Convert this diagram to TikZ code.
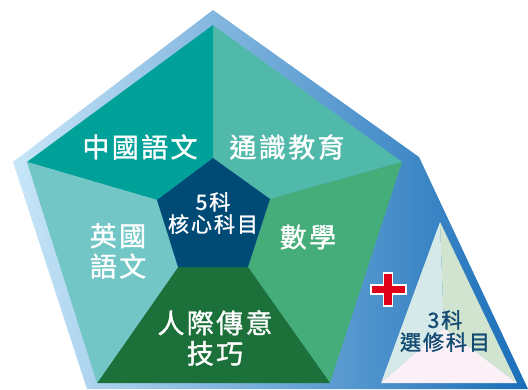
\documentclass[tikz,border=0pt]{standalone}
\usepackage{fontspec}
\newfontfamily\cjk[FakeBold=1.2, LetterSpace=9]{Noto Sans CJK TC}

\definecolor{frameL}{RGB}{200,230,248}
\definecolor{frameM}{RGB}{130,180,225}
\definecolor{frameR}{RGB}{25,110,185}
\definecolor{zhteal}{RGB}{0,161,153}
\definecolor{gsteal}{RGB}{80,185,170}
\definecolor{mathgreen}{RGB}{68,173,122}
\definecolor{commgreen}{RGB}{28,112,58}
\definecolor{enteal}{RGB}{115,198,198}
\definecolor{coreblue}{RGB}{0,74,118}
\definecolor{triL}{RGB}{213,234,232}
\definecolor{triR}{RGB}{208,228,208}
\definecolor{triB}{RGB}{250,240,246}
\definecolor{electblue}{RGB}{20,75,115}
\definecolor{crossred}{RGB}{225,0,25}

\begin{document}
\begin{tikzpicture}[
  x=0.03cm, y=-0.03cm,
  every node/.style={font=\cjk, text=white, align=center},
  big/.style={font=\cjk\fontsize{23}{26}\selectfont},
  small/.style={font=\cjk\fontsize{18}{19}\selectfont}
]
\useasboundingbox (0,0) rectangle (528,389);

% outer frame:
\shade [left color=frameL, middle color=frameM, right color=frameR]
  (213,10) -- (419,157) -- (528,389) -- (87,389) -- (13,162) -- cycle;

\coordinate (T) at (213,25);
\coordinate (L) at (27,162);
\coordinate (R) at (402,162);
\coordinate (BL) at (97,383);
\coordinate (BR) at (330,383);
\coordinate (cT) at (213,158);
\coordinate (cL) at (157,200);
\coordinate (cR) at (270,199);
\coordinate (cBL) at (178,267);
\coordinate (cBR) at (248,267);

% five sectors, then the core
\foreach \a/\b/\c/\d/\col in {T/L/cL/cT/zhteal, T/cT/cR/R/gsteal,
    R/cR/cBR/BR/mathgreen, cBL/cBR/BR/BL/commgreen, L/BL/cBL/cL/enteal} {
  \fill [\col] (\a) -- (\b) -- (\c) -- (\d) -- cycle;
}
\fill [coreblue] (cT) -- (cR) -- (cBR) -- (cBL) -- (cL) -- cycle;

% triangle:
\coordinate (tT) at (440,222);
\coordinate (tL) at (381,383);
\coordinate (tR) at (517,383);
\coordinate (tP) at (444,328);
\foreach \a/\b/\col in {tT/tL/triL, tT/tR/triR, tL/tR/triB} {
  \fill [\col] (\a) -- (\b) -- (tP) -- cycle;
}

% plus sign
\filldraw [fill=crossred, draw=white, line width=1.3pt]
  (371,285) -- (383.5,285) -- (383.5,273) -- (392.5,273) -- (392.5,285)
  -- (406,285) -- (406,294) -- (392.5,294) -- (392.5,306) -- (383.5,306)
  -- (383.5,294) -- (371,294) -- cycle;

\node [big] (chinese) at (140,147) {中國語文};
\node [big] (liberal) at (287,147) {通識教育};
\node [big] (english) at (118,251) {英國\\語文};
\node [big] (maths) at (308,237) {數學};
\node [big] (comm) at (215,338) {人際傳意\\技巧};
\node [small] (core) at (213,213) {5科\\核心科目};
\node [small, text=electblue] (elect) at (445,331) {3科\\選修科目};

\end{tikzpicture}
\end{document}
